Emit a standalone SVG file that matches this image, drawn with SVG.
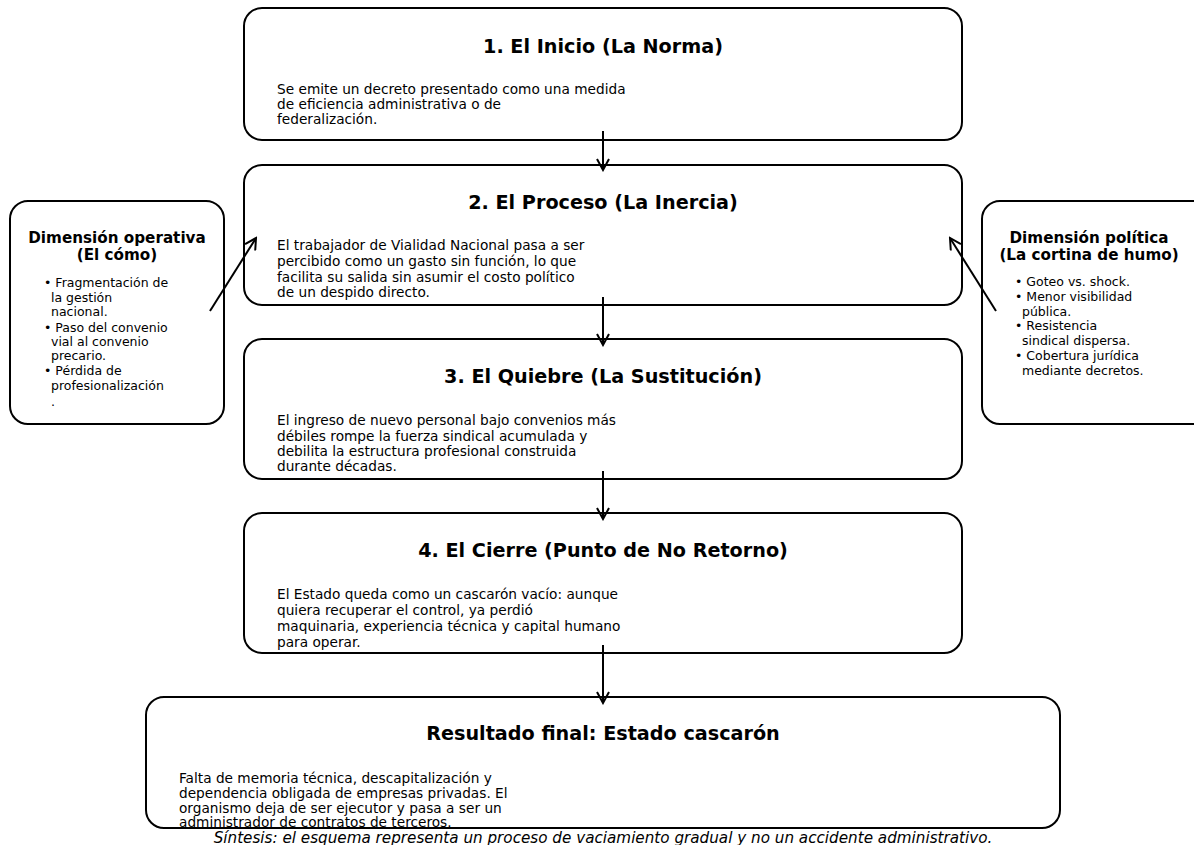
<svg xmlns="http://www.w3.org/2000/svg" width="1194" height="845" viewBox="0 0 1194 845">
<defs>
<style>
.box{fill:#fff;stroke:#000;stroke-width:2}
.t{font-family:"DejaVu Sans","Liberation Sans",sans-serif;font-weight:bold;font-size:19.2px;text-anchor:middle;fill:#000}
.b{font-family:"DejaVu Sans","Liberation Sans",sans-serif;font-size:13.7px;fill:#000}
.st{font-family:"DejaVu Sans","Liberation Sans",sans-serif;font-weight:bold;font-size:15.2px;text-anchor:middle;fill:#000}
.sb{font-family:"DejaVu Sans","Liberation Sans",sans-serif;font-size:12.5px;fill:#000}
.f{font-family:"DejaVu Sans","Liberation Sans",sans-serif;font-style:italic;font-size:15.2px;text-anchor:middle;fill:#000}
.c{fill:none;stroke:#000;stroke-width:2}
</style>
<marker id="ah" markerWidth="14" markerHeight="14" refX="12" refY="7" orient="auto" markerUnits="userSpaceOnUse">
<path d="M1,1 L12,7 L1,13" fill="none" stroke="#000" stroke-width="2"/>
</marker>
</defs>
<rect width="1194" height="845" fill="#fff"/>
<g id="n1">
<rect class="box" x="244" y="8" width="718" height="132" rx="18"/>
<text class="t" x="603" y="53">1. El Inicio (La Norma)</text>
<text class="b" x="277" y="94">Se emite un decreto presentado como una medida</text>
<text class="b" x="277" y="109">de eficiencia administrativa o de</text>
<text class="b" x="277" y="124">federalización.</text>
</g>
<g id="n2">
<rect class="box" x="244" y="165" width="718" height="140" rx="18"/>
<text class="t" x="603" y="209">2. El Proceso (La Inercia)</text>
<text class="b" x="277" y="250">El trabajador de Vialidad Nacional pasa a ser</text>
<text class="b" x="277" y="266">percibido como un gasto sin función, lo que</text>
<text class="b" x="277" y="282">facilita su salida sin asumir el costo político</text>
<text class="b" x="277" y="297">de un despido directo.</text>
</g>
<g id="n3">
<rect class="box" x="244" y="339" width="718" height="140" rx="18"/>
<text class="t" x="603" y="383">3. El Quiebre (La Sustitución)</text>
<text class="b" x="277" y="425">El ingreso de nuevo personal bajo convenios más</text>
<text class="b" x="277" y="441">débiles rompe la fuerza sindical acumulada y</text>
<text class="b" x="277" y="456">debilita la estructura profesional construida</text>
<text class="b" x="277" y="471">durante décadas.</text>
</g>
<g id="n4">
<rect class="box" x="244" y="513" width="718" height="140" rx="18"/>
<text class="t" x="603" y="557">4. El Cierre (Punto de No Retorno)</text>
<text class="b" x="277" y="599">El Estado queda como un cascarón vacío: aunque</text>
<text class="b" x="277" y="615">quiera recuperar el control, ya perdió</text>
<text class="b" x="277" y="631">maquinaria, experiencia técnica y capital humano</text>
<text class="b" x="277" y="647">para operar.</text>
</g>
<g id="n5">
<rect class="box" x="146" y="697" width="914" height="131" rx="18"/>
<text class="t" x="603" y="740">Resultado final: Estado cascarón</text>
<text class="b" x="179" y="783">Falta de memoria técnica, descapitalización y</text>
<text class="b" x="179" y="798">dependencia obligada de empresas privadas. El</text>
<text class="b" x="179" y="813">organismo deja de ser ejecutor y pasa a ser un</text>
<text class="b" x="179" y="827">administrador de contratos de terceros.</text>
</g>
<g id="opl">
<rect class="box" x="10" y="201" width="214" height="223" rx="18"/>
<text class="st" x="117" y="243">Dimensión operativa</text>
<text class="st" x="117" y="260">(El cómo)</text>
<text class="sb" x="44" y="287">• Fragmentación de</text>
<text class="sb" x="51" y="302">la gestión</text>
<text class="sb" x="51" y="316">nacional.</text>
<text class="sb" x="44" y="332">• Paso del convenio</text>
<text class="sb" x="51" y="346">vial al convenio</text>
<text class="sb" x="51" y="360">precario.</text>
<text class="sb" x="44" y="375">• Pérdida de</text>
<text class="sb" x="51" y="390">profesionalización</text>
<text class="sb" x="51" y="406">.</text>
</g>
<g id="pol">
<rect class="box" x="982" y="201" width="230" height="223" rx="18"/>
<text class="st" x="1089" y="243">Dimensión política</text>
<text class="st" x="1089" y="260">(La cortina de humo)</text>
<text class="sb" x="1015" y="286">• Goteo vs. shock.</text>
<text class="sb" x="1015" y="301">• Menor visibilidad</text>
<text class="sb" x="1022" y="316">pública.</text>
<text class="sb" x="1015" y="330">• Resistencia</text>
<text class="sb" x="1022" y="345">sindical dispersa.</text>
<text class="sb" x="1015" y="360">• Cobertura jurídica</text>
<text class="sb" x="1022" y="375">mediante decretos.</text>
</g>
<g id="connectors">
<line class="c" x1="603" y1="131" x2="603" y2="170" marker-end="url(#ah)"/>
<line class="c" x1="603" y1="297" x2="603" y2="345" marker-end="url(#ah)"/>
<line class="c" x1="603" y1="471" x2="603" y2="519" marker-end="url(#ah)"/>
<line class="c" x1="603" y1="645" x2="603" y2="703" marker-end="url(#ah)"/>
<line class="c" x1="210" y1="311" x2="256" y2="238" marker-end="url(#ah)"/>
<line class="c" x1="996" y1="311" x2="950" y2="238" marker-end="url(#ah)"/>
</g>
<text class="f" x="603" y="843">Síntesis: el esquema representa un proceso de vaciamiento gradual y no un accidente administrativo.</text>
</svg>
